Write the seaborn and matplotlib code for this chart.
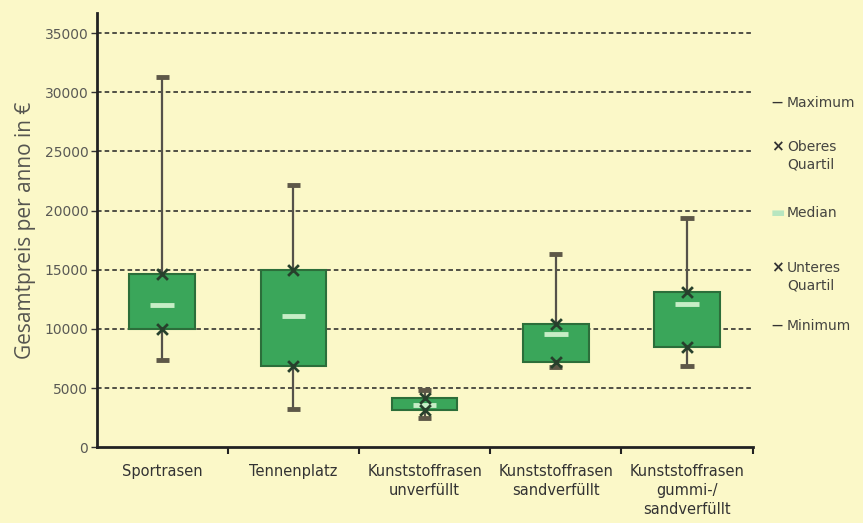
"""
Boxplot der Gesamtkosten pro Jahr je Belagsart
"""
import matplotlib.pyplot as plt
import seaborn as sns
import pandas as pd
import numpy as np

# Werte
kategorien = ["Sportrasen", "Tennenplatz", "Kunststoffrasen\nunverfüllt",
              "Kunststoffrasen\nsandverfüllt", "Kunststoffrasen\ngummi-/\nsandverfüllt"]
minimum = [7400, 3200, 2500, 6800, 6900]
unteres_quartil = [10000, 6900, 3100, 7200, 8500]
median = [12000, 11100, 3550, 9600, 12100]
oberes_quartil = [14600, 15000, 4150, 10400, 13100]
maximum = [31300, 22200, 4800, 16300, 19400]
y_ticks = [0, 5000, 10000, 15000, 20000, 25000, 30000, 35000]

hintergrund = "#fbf8c8"
gruen = "#3aa65a"

sns.set_style("white")
plt.rcParams["font.family"] = ["Liberation Sans Narrow", "DejaVu Sans"]

tabela = pd.DataFrame({
    "kategorie": np.repeat(kategorien, 5),
    "preis": np.ravel(np.column_stack([minimum, unteres_quartil, median, oberes_quartil, maximum])),
})

fig = plt.figure(figsize=(8.63, 5.23), dpi=100, facecolor=hintergrund)
ax = fig.add_axes([0.112, 0.145, 0.76, 0.83], facecolor=hintergrund)

# Gitterlinien
for wert in y_ticks[1:]:
    ax.axhline(wert, color="#222222", linestyle=(0, (3, 2)), linewidth=1.1, zorder=0)

sns.boxplot(data=tabela, x="kategorie", y="preis", order=kategorien, ax=ax,
            whis=(0, 100), width=0.5, color=gruen, saturation=1, fliersize=0,
            linecolor="#2c6e3a", linewidth=1.5,
            boxprops=dict(facecolor=gruen, edgecolor="#2c6e3a", zorder=2),
            whiskerprops=dict(color="#55524a", linewidth=1.6, zorder=1),
            capprops=dict(color="#5e5848", linewidth=3.5, solid_capstyle="butt"),
            medianprops=dict(visible=False),
            capwidths=0.1)

pos = np.arange(len(kategorien))
ax.hlines(median, pos - 0.09, pos + 0.09, color="#c6eec6", linewidth=3.5, zorder=4)
sns.scatterplot(x=np.concatenate([pos, pos]), y=unteres_quartil + oberes_quartil, ax=ax,
                marker="x", s=60, color="#27402c", linewidth=2, zorder=5, legend=False)

ax.set_xlim(-0.5, 4.5)
ax.set_ylim(0, 36700)
ax.set_yticks(y_ticks)
ax.set_yticklabels([str(v) for v in y_ticks], fontsize=10, color="#5a5a55")
ax.tick_params(axis="y", left=True, length=4, width=1, color="#333333", pad=2)

ax.set_xticks(pos)
ax.set_xticklabels(kategorien, fontsize=10.5, color="#333333", linespacing=1.35)
ax.set_xticks(np.arange(-0.5, 5.0, 1.0)[1:], minor=True)
ax.tick_params(axis="x", which="major", bottom=True, length=0, pad=12)
ax.tick_params(axis="x", which="minor", bottom=True, length=5, width=1.5,
               color="#222222", direction="out")

ax.set_xlabel("")
ax.set_ylabel("Gesamtpreis per anno in €", fontsize=15, color="#555550",
              family=["Open Sans", "DejaVu Sans"], labelpad=6)

for seite in ["top", "right"]:
    ax.spines[seite].set_visible(False)
ax.spines["left"].set_linewidth(2)
ax.spines["bottom"].set_linewidth(2)
ax.spines["left"].set_color("#222222")
ax.spines["bottom"].set_color("#222222")

# Legende rechts als Text
legende = [
    ("—", "#333333", 8, "Maximum", 103),
    ("×", "#333333", 11, "Oberes\nQuartil", 156),
    ("▬", "#b8e6c0", 11, "Median", 213),
    ("×", "#333333", 11, "Unteres\nQuartil", 277),
    ("—", "#333333", 8, "Minimum", 326),
]
for symbol, farbe, groesse, text, y in legende:
    yy = 1 - y / 523
    fig.text(771 / 863, yy if "\n" not in text else yy + 9 / 523, symbol, color=farbe,
             fontsize=groesse, fontweight="bold", ha="left", va="center", family=["DejaVu Sans"])
    fig.text(787 / 863, yy, text, color="#444440", fontsize=10, ha="left", va="center",
             linespacing=1.3)

plt.savefig("out.png", dpi=100, facecolor=hintergrund)
